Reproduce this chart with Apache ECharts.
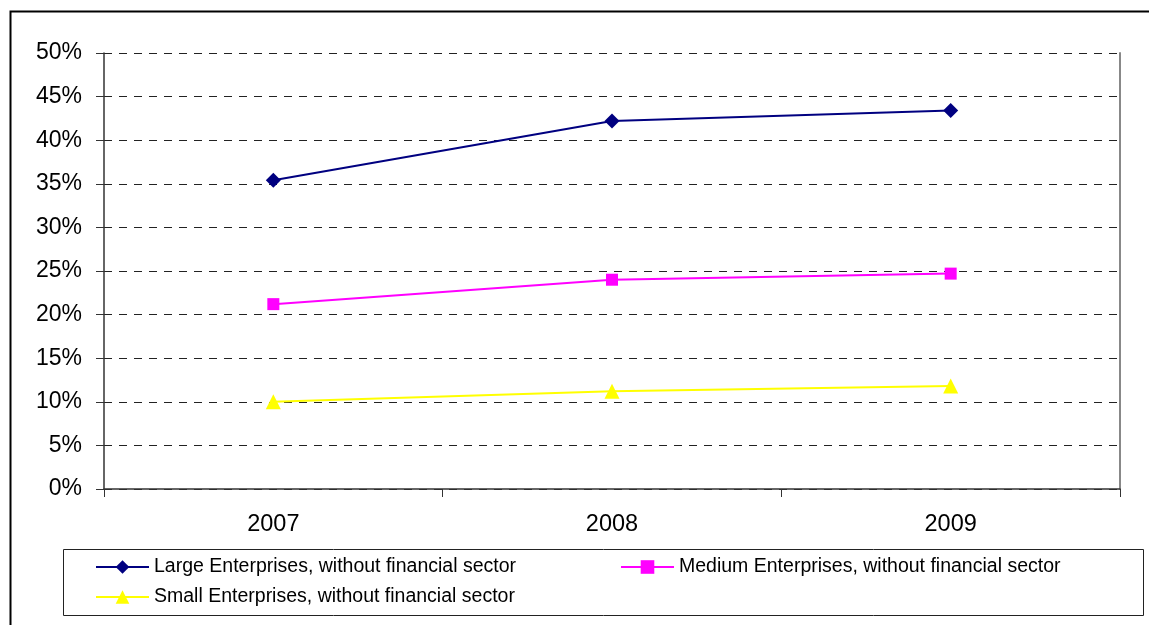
<!DOCTYPE html>
<html>
<head>
<meta charset="utf-8">
<script src="https://cdn.jsdelivr.net/npm/echarts@6/dist/echarts.min.js"></script>
<style>
html,body{margin:0;padding:0;background:#fff;}
#chart{width:1149px;height:625px;}
</style>
</head>
<body>
<div id="chart"></div>
<script>
const categories = ['2007', '2008', '2009'];
const largeValues = [35.4, 42.2, 43.4];
const mediumValues = [21.2, 24.0, 24.7];
const smallValues = [10.0, 11.2, 11.8];
const seriesNames = [
  'Large Enterprises, without financial sector',
  'Medium Enterprises, without financial sector',
  'Small Enterprises, without financial sector'
];
const yMin = 0, yMax = 50, yStep = 5;

const chart = echarts.init(document.getElementById('chart'), null, {renderer: 'canvas'});
const font = 'Liberation Sans, Arial, sans-serif';
const legendText = {fontFamily: font, fontSize: 19.5, color: '#000'};

function legendAt(name, left, top) {
  return {
    data: [name], left: left, top: top, orient: 'horizontal',
    itemWidth: 53, itemHeight: 17, itemGap: 0, padding: 0,
    textStyle: legendText, selectedMode: false
  };
}

chart.setOption({
  animation: false,
  backgroundColor: '#fff',
  graphic: [
    {type: 'rect', left: 8, top: 9, shape: {width: 1160, height: 640},
     style: {fill: 'none', stroke: '#000', lineWidth: 2}, silent: true, z: -1},
    {type: 'rect', left: 63, top: 549, shape: {width: 1080, height: 66},
     style: {fill: '#fff', stroke: '#222', lineWidth: 1}, silent: true, z: -1}
  ],
  grid: {left: 104, right: 29, top: 53, bottom: 136, containLabel: false},
  legend: [
    legendAt(seriesNames[0], 95, 557),
    legendAt(seriesNames[1], 620, 557),
    legendAt(seriesNames[2], 95, 587)
  ],
  xAxis: {
    type: 'category', data: categories, boundaryGap: true,
    axisLine: {show: true, lineStyle: {color: '#333', width: 1.5}},
    axisTick: {show: true, length: 8, inside: false, lineStyle: {color: '#333', width: 1}},
    axisLabel: {fontFamily: font, fontSize: 23.5, color: '#000', margin: 24},
    splitLine: {show: false}
  },
  yAxis: [{
    type: 'value', min: yMin, max: yMax, interval: yStep,
    axisLine: {show: true, lineStyle: {color: '#333', width: 1.5}},
    axisTick: {show: true, length: 8, lineStyle: {color: '#333'}},
    axisLabel: {fontFamily: font, fontSize: 23, color: '#000', margin: 22, formatter: '{value}%'},
    splitLine: {show: true, lineStyle: {color: '#222', type: [8, 7], width: 1}}
  }, {
    type: 'value', min: yMin, max: yMax, interval: yStep, position: 'right',
    axisLine: {show: true, lineStyle: {color: '#888', width: 2}},
    axisTick: {show: false}, axisLabel: {show: false}, splitLine: {show: false}
  }],
  series: [
    {name: seriesNames[0], type: 'line', data: largeValues,
     symbol: 'diamond', symbolSize: 15, lineStyle: {color: '#000080', width: 2},
     itemStyle: {color: '#000080'}},
    {name: seriesNames[1], type: 'line', data: mediumValues,
     symbol: 'rect', symbolSize: 12, lineStyle: {color: '#FF00FF', width: 2},
     itemStyle: {color: '#FF00FF'}},
    {name: seriesNames[2], type: 'line', data: smallValues,
     symbol: 'triangle', symbolSize: 15, lineStyle: {color: '#FFFF00', width: 2},
     itemStyle: {color: '#FFFF00'}}
  ]
});
</script>
</body>
</html>
